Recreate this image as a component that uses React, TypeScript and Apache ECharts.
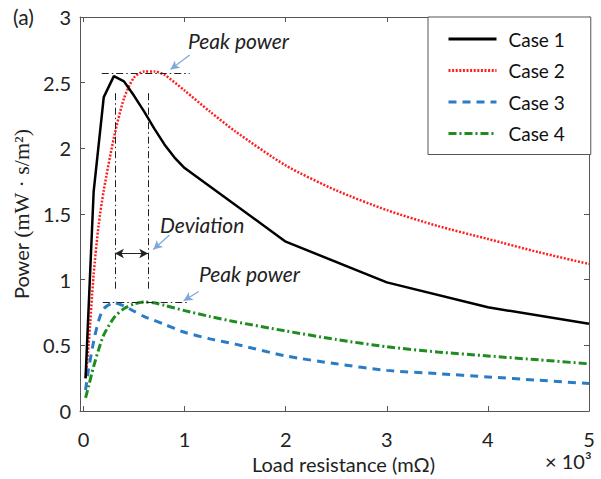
import React, { useEffect, useRef } from 'react';
import * as echarts from 'echarts';

// Case 1 is a polyline through its sample points
const caseOneX = [0.02, 0.1, 0.2, 0.3, 0.4, 0.5, 0.6, 0.7, 0.8, 0.9, 1, 2, 3, 4, 5];
const caseOneY = [0.25, 1.67, 2.39, 2.55, 2.51, 2.4, 2.28, 2.15, 2.03, 1.93, 1.85, 1.29, 0.98, 0.79, 0.665];

// cases 2-4 share the same load resistance samples (x 10^3 mOhm)
const sharedX = [0.02, 0.05, 0.1, 0.15, 0.2, 0.3, 0.4, 0.5, 0.6, 0.7, 0.8, 1.0, 1.25, 1.5, 2, 2.5, 3, 3.5, 4, 4.5, 5];
const caseTwoY = [0.25, 0.5, 1.04, 1.42, 1.68, 2.08, 2.38, 2.54, 2.585, 2.585, 2.56, 2.44, 2.28, 2.13, 1.87, 1.68, 1.53, 1.41, 1.31, 1.21, 1.12];
const caseThreeY = [0.16, 0.32, 0.53, 0.69, 0.78, 0.825, 0.8, 0.76, 0.72, 0.69, 0.66, 0.6, 0.55, 0.51, 0.42, 0.36, 0.31, 0.285, 0.26, 0.235, 0.21];
const caseFourY = [0.1, 0.19, 0.34, 0.47, 0.58, 0.71, 0.78, 0.815, 0.83, 0.825, 0.805, 0.765, 0.72, 0.68, 0.61, 0.545, 0.49, 0.45, 0.42, 0.39, 0.36];

const caseNames = ['Case 1', 'Case 2', 'Case 3', 'Case 4'];
const xTicks = [0, 1, 2, 3, 4, 5];

// annotation segments, in data coordinates
const upperPeakLine = [[0.18, 2.575], [1.05, 2.575]];
const lowerPeakLine = [[0.19, 0.83], [1.05, 0.83]];
const leftGuide = [[0.31, 2.42], [0.31, 0.92]];
const rightGuide = [[0.64, 2.42], [0.64, 0.92]];
const deviationArrow = [[0.31, 1.2], [0.64, 1.2]];
const upperCallout = [[1.05, 2.71], [0.86, 2.6]];
const deviationCallout = [[0.85, 1.34], [0.69, 1.23]];
const lowerCallout = [[1.14, 0.91], [0.99, 0.84]];

const FONT = 'Lato';

const zip = (xs: number[], ys: number[]) => xs.map((x, i) => [x, ys[i]]);

const App: React.FC = () => {
  const chartRef = useRef<HTMLDivElement | null>(null);

  useEffect(() => {
    if (!chartRef.current) return;
    document.body.style.margin = '0';
    const chart = echarts.init(chartRef.current, null, { renderer: 'svg' });

    const dashDot = { color: '#222', width: 1, type: [7, 3, 1.5, 3] };
    const callout = { color: '#7fa8d8', width: 1.2, type: 'solid' };
    const seg = (pts: number[][], style: any, endSymbol = 'none', startSymbol = 'none') => [
      { coord: pts[0], lineStyle: style, symbol: startSymbol, symbolSize: [7, 9] },
      { coord: pts[1], symbol: endSymbol, symbolSize: [7, 9] },
    ];

    const boxAxisX = {
      type: 'value',
      min: -0.035,
      max: 5,
      axisLine: { show: true, onZero: false, lineStyle: { color: '#555', width: 1 } },
      axisTick: { show: true, inside: true, length: 5, customValues: xTicks, lineStyle: { color: '#555' } },
      splitLine: { show: false },
    };
    const boxAxisY = {
      type: 'value',
      min: 0,
      max: 3,
      interval: 0.5,
      axisLine: { show: true, onZero: false, lineStyle: { color: '#555', width: 1 } },
      axisTick: { show: true, inside: true, length: 5, lineStyle: { color: '#555' } },
      splitLine: { show: false },
    };

    chart.setOption({
      animation: false,
      backgroundColor: '#fff',
      grid: { left: 80, top: 17, right: 12, bottom: 65 },
      xAxis: [
        {
          ...boxAxisX,
          position: 'bottom',
          axisLabel: { customValues: xTicks, fontFamily: FONT, fontSize: 20, color: '#222', margin: 18 },
          name: 'Load resistance (mΩ)',
          nameLocation: 'middle',
          nameGap: 40,
          nameTextStyle: { fontFamily: FONT, fontSize: 20, color: '#222', padding: [0, 0, 0, 18] },
        },
        { ...boxAxisX, position: 'top', axisLabel: { show: false } },
      ],
      yAxis: [
        {
          ...boxAxisY,
          position: 'left',
          axisLabel: { fontFamily: FONT, fontSize: 20, color: '#222', margin: 9 },
          name: '{a|Power }{b|(mW · s/m²)}',
          nameLocation: 'middle',
          nameGap: 46,
          nameTextStyle: {
            rich: {
              a: { fontFamily: FONT, fontSize: 20, color: '#222' },
              b: { fontFamily: 'Liberation Serif', fontSize: 22, color: '#222' },
            },
          },
        },
        { ...boxAxisY, position: 'right', axisLabel: { show: false } },
      ],
      legend: {
        orient: 'vertical',
        left: 428,
        top: 17,
        data: caseNames,
        backgroundColor: '#fff',
        borderColor: '#555',
        borderWidth: 1,
        padding: [12, 26, 11, 19],
        itemWidth: 48,
        itemHeight: 14,
        itemGap: 11.5,
        itemStyle: { opacity: 0 },
        lineStyle: { width: 3 },
        textStyle: { fontFamily: FONT, fontSize: 19, color: '#111', lineHeight: 20, padding: [0, 0, 0, 7] },
      },
      graphic: [
        { type: 'text', left: 13, top: 6, style: { text: '(a)', font: `21px ${FONT}`, fill: '#222' } },
        { type: 'text', left: 188, top: 30, style: { text: 'Peak power', font: `italic 21px ${FONT}`, fill: '#222' } },
        { type: 'text', left: 160, top: 214, style: { text: 'Deviation', font: `italic 21px ${FONT}`, fill: '#222' } },
        { type: 'text', left: 199, top: 263, style: { text: 'Peak power', font: `italic 21px ${FONT}`, fill: '#222' } },
        { type: 'text', left: 545, top: 451, style: { text: '× 10³', font: `20px ${FONT}`, fill: '#222' } },
      ],
      series: [
        {
          name: caseNames[0],
          type: 'line',
          data: zip(caseOneX, caseOneY),
          symbol: 'none',
          color: '#000',
          lineStyle: { color: '#000', width: 2.5 },
          z: 5,
          markLine: {
            silent: true,
            symbol: ['none', 'none'],
            label: { show: false },
            data: [
              seg(upperPeakLine, dashDot),
              seg(lowerPeakLine, dashDot),
              seg(leftGuide, dashDot),
              seg(rightGuide, dashDot),
              seg(deviationArrow, { color: '#222', width: 1.2, type: 'solid' }, 'arrow', 'arrow'),
              seg(upperCallout, callout, 'arrow'),
              seg(deviationCallout, callout, 'arrow'),
              seg(lowerCallout, callout, 'arrow'),
            ],
          },
        },
        {
          name: caseNames[1],
          type: 'line',
          data: zip(sharedX, caseTwoY),
          symbol: 'none',
          smooth: 0.25,
          color: '#ff1f1f',
          lineStyle: { color: '#ff1f1f', width: 2.5, type: [2, 1.6] },
        },
        {
          name: caseNames[2],
          type: 'line',
          data: zip(sharedX, caseThreeY),
          symbol: 'none',
          smooth: 0.25,
          color: '#2a7cc6',
          lineStyle: { color: '#2a7cc6', width: 3, type: [8, 6] },
        },
        {
          name: caseNames[3],
          type: 'line',
          data: zip(sharedX, caseFourY),
          symbol: 'none',
          smooth: 0.25,
          color: '#1e8c1e',
          lineStyle: { color: '#1e8c1e', width: 3, type: [8, 3, 2, 3] },
        },
      ],
    });

    const resizeHandler = () => chart.resize();
    window.addEventListener('resize', resizeHandler);
    return () => {
      window.removeEventListener('resize', resizeHandler);
      chart.dispose();
    };
  }, []);

  return <div ref={chartRef} style={{ width: 601, height: 479 }} />;
};

export default App;
